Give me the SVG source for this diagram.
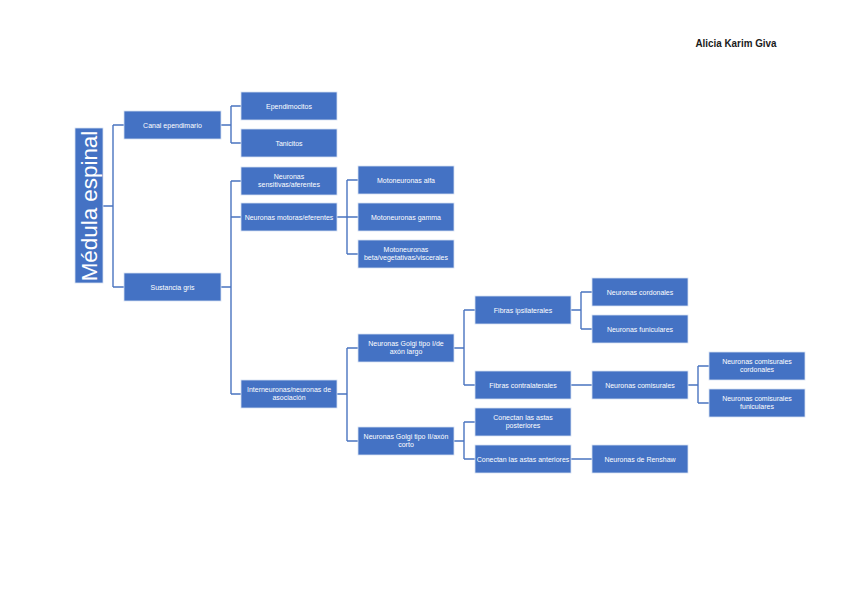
<svg xmlns="http://www.w3.org/2000/svg" width="848" height="599" viewBox="0 0 848 599">
<style>
.bx{fill:#4472C4;stroke:#d6e0f3;stroke-width:0.8}
.t{font-family:"Liberation Sans",Arial,sans-serif;font-size:7px;fill:#ffffff;text-anchor:middle}
.c{fill:none;stroke:#4a74c0;stroke-width:1.4}
</style>
<rect width="848" height="599" fill="#ffffff"/>
<text x="736" y="47" font-family="Liberation Sans,Arial,sans-serif" font-size="10.5" font-weight="bold" fill="#1a1a1a" text-anchor="middle" textLength="81" lengthAdjust="spacingAndGlyphs">Alicia Karim Giva</text>
<g id="connectors">
<path class="c" d="M103 206H113M113 125V287M113 125H124M113 287H124"/>
<path class="c" d="M221 125H231M231 106V143M231 106H241M231 143H241"/>
<path class="c" d="M221 287H231M231 181V394M231 181H241M231 217H241M231 394H241"/>
<path class="c" d="M337 217H347M347 180V254M347 180H358M347 217H358M347 254H358"/>
<path class="c" d="M337 394H347M347 348V441M347 348H358M347 441H358"/>
<path class="c" d="M454 348H464M464 310V385M464 310H475M464 385H475"/>
<path class="c" d="M454 441H464M464 422V459M464 422H475M464 459H475"/>
<path class="c" d="M571 310H581M581 292V329M581 292H592M581 329H592"/>
<path class="c" d="M571 385H592M571 459H592"/>
<path class="c" d="M688 385H698M698 366V403M698 366H709M698 403H709"/>
</g>
<g id="root"><rect class="bx" x="75" y="128" width="28" height="155"/><text transform="translate(97 206) rotate(-90)" font-family="Liberation Sans,Arial,sans-serif" font-size="22.4" fill="#ffffff" text-anchor="middle">Médula espinal</text></g>
<g id="canal"><rect class="bx" x="124" y="111" width="97" height="28"/><text class="t" x="172.5" y="127.5">Canal ependimario</text></g>
<g id="sustancia"><rect class="bx" x="124" y="273" width="97" height="28"/><text class="t" x="172.5" y="289.5">Sustancia gris</text></g>
<g id="ependimocitos"><rect class="bx" x="241" y="92" width="96" height="28"/><text class="t" x="289" y="108.5">Ependimocitos</text></g>
<g id="tanicitos"><rect class="bx" x="241" y="129" width="96" height="28"/><text class="t" x="289" y="145.5">Tanicitos</text></g>
<g id="sensitivas"><rect class="bx" x="241" y="167" width="96" height="28"/><text class="t" x="289" y="179">Neuronas</text><text class="t" x="289" y="187">sensitivas/aferentes</text></g>
<g id="motoras"><rect class="bx" x="241" y="203" width="96" height="28"/><text class="t" x="289" y="219.5">Neuronas motoras/eferentes</text></g>
<g id="interneuronas"><rect class="bx" x="241" y="380" width="96" height="28"/><text class="t" x="289" y="392">Interneuronas/neuronas de</text><text class="t" x="289" y="400">asociación</text></g>
<g id="alfa"><rect class="bx" x="358" y="166" width="96" height="28"/><text class="t" x="406" y="182.5">Motoneuronas alfa</text></g>
<g id="gamma"><rect class="bx" x="358" y="203" width="96" height="28"/><text class="t" x="406" y="219.5">Motoneuronas gamma</text></g>
<g id="beta"><rect class="bx" x="358" y="240" width="96" height="28"/><text class="t" x="406" y="252">Motoneuronas</text><text class="t" x="406" y="260">beta/vegetativas/viscerales</text></g>
<g id="golgi1"><rect class="bx" x="358" y="334" width="96" height="28"/><text class="t" x="406" y="346">Neuronas Golgi tipo I/de</text><text class="t" x="406" y="354">axón largo</text></g>
<g id="golgi2"><rect class="bx" x="358" y="427" width="96" height="28"/><text class="t" x="406" y="439">Neuronas Golgi tipo II/axón</text><text class="t" x="406" y="447">corto</text></g>
<g id="ipsi"><rect class="bx" x="475" y="296" width="96" height="28"/><text class="t" x="523" y="312.5">Fibras ipsilaterales</text></g>
<g id="contra"><rect class="bx" x="475" y="371" width="96" height="28"/><text class="t" x="523" y="387.5">Fibras contralaterales</text></g>
<g id="posteriores"><rect class="bx" x="475" y="408" width="96" height="28"/><text class="t" x="523" y="420">Conectan las astas</text><text class="t" x="523" y="428">posteriores</text></g>
<g id="anteriores"><rect class="bx" x="475" y="445" width="96" height="28"/><text class="t" x="523" y="461.5">Conectan las astas anteriores</text></g>
<g id="cordonales"><rect class="bx" x="592" y="278" width="96" height="28"/><text class="t" x="640" y="294.5">Neuronas cordonales</text></g>
<g id="funiculares"><rect class="bx" x="592" y="315" width="96" height="28"/><text class="t" x="640" y="331.5">Neuronas funiculares</text></g>
<g id="comisurales"><rect class="bx" x="592" y="371" width="96" height="28"/><text class="t" x="640" y="387.5">Neuronas comisurales</text></g>
<g id="renshaw"><rect class="bx" x="592" y="445" width="96" height="28"/><text class="t" x="640" y="461.5">Neuronas de Renshaw</text></g>
<g id="com-cordonales"><rect class="bx" x="709" y="352" width="96" height="28"/><text class="t" x="757" y="364">Neuronas comisurales</text><text class="t" x="757" y="372">cordonales</text></g>
<g id="com-funiculares"><rect class="bx" x="709" y="389" width="96" height="28"/><text class="t" x="757" y="401">Neuronas comisurales</text><text class="t" x="757" y="409">funiculares</text></g>
</svg>
